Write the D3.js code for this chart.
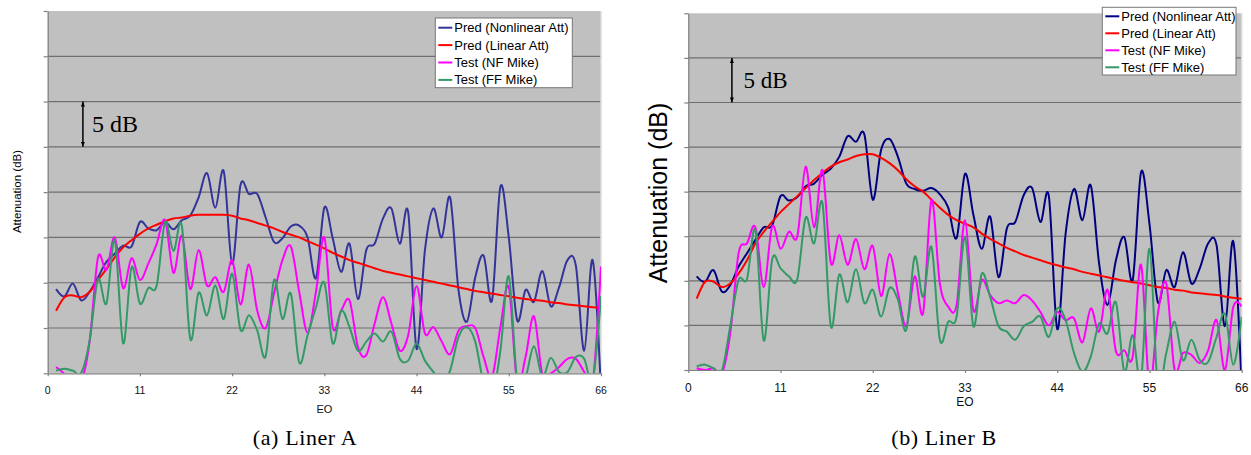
<!DOCTYPE html>
<html><head><meta charset="utf-8">
<script src="https://cdn.jsdelivr.net/npm/d3@7"></script>
<style>body{margin:0;background:#fff;} svg{display:block}</style>
</head><body><svg id="c" width="1251" height="455"></svg>
<script>
// ---------------- data ----------------
const eo = [1,2,3,4,5,6,7,8,9,10,11,12,13,14,15,16,17,18,19,20,21,22,23,24,25,26,27,28,29,30,31,32,33,34,35,36,37,38,39,40,41,42,43,44,45,46,47,48,49,50,51,52,53,54,55,56,57,58,59,60,61,62,63,64,65,66];
const xTicks = [0,11,22,33,44,55,66];
const yTicks = [0,5,10,15,20,25,30,35,40];
const seriesNames = ["Pred (Nonlinear Att)","Pred (Linear Att)","Test (NF Mike)","Test (FF Mike)"];
const captions = ["(a) Liner A","(b) Liner B"];

// Liner A (attenuation in dB, 5 dB per grid line)
const linerA_nonlinear = [9.3,8.5,9.9,8.05,9.0,10.6,12.3,13.2,14.1,14.0,16.7,16.0,15.8,16.7,15.9,16.9,17.4,19.4,22.1,18.3,22.3,12.1,20.8,19.8,19.8,17.2,14.5,14.9,16.2,16.3,15.0,10.5,18.3,14.9,11.2,14.3,8.2,13.6,14.3,17.1,18.2,14.3,17.8,2.7,13.6,18.2,15.0,19.4,9.2,5.7,10.6,13.0,8.05,20.6,15.0,5.85,9.2,7.9,11.3,7.4,9.5,12.5,11.9,2.5,12.5,-2];
const linerA_linear = [6.9,8.4,8.6,8.4,9.0,10.3,11.5,12.8,13.9,14.7,15.4,16.0,16.4,16.8,17.1,17.2,17.4,17.5,17.5,17.5,17.5,17.4,17.1,16.9,16.6,16.3,16.0,15.6,15.3,15.0,14.6,14.2,13.8,13.3,12.9,12.5,12.2,11.9,11.6,11.3,11.1,10.9,10.7,10.5,10.3,10.1,9.9,9.7,9.5,9.3,9.1,8.95,8.8,8.65,8.5,8.35,8.2,8.1,8.0,7.85,7.75,7.6,7.5,7.4,7.3,7.2];
const linerA_nf = [0.7,-0.1,-1.5,-1.0,3.5,12.8,11.4,15.0,9.4,12.7,10.3,12.1,14.3,16.9,11.1,15.2,9.3,13.6,9.7,10.6,9.0,12.5,7.6,12.0,6.9,5.0,8.8,12.5,14.0,9.0,4.5,9.0,15.0,5.1,6.9,8.05,2.9,2.0,5.5,8.4,5.5,2.5,4.2,9.6,4.4,5.1,3.5,2.1,4.7,5.2,5.0,1.8,-0.4,5.1,9.5,-1.0,1.8,6.3,-0.1,0,0.7,1.6,1.6,0.15,-1.1,11.8];
const linerA_ff = [0.3,0.5,0.3,0.05,3.6,10.4,7.7,14.7,3.3,11.7,7.7,9.4,9.7,16.7,13.5,16.3,3.8,8.9,6.4,9.7,6.0,11.0,4.8,6.4,4.7,1.9,10.3,6.0,8.8,1.2,4.2,7.3,10.0,3.3,6.9,5.1,2.5,3.5,4.4,3.5,4.6,1.6,1.4,3.3,1.4,0.15,-1.1,0.3,4.0,5.1,3.5,-1.1,-2.6,2.5,10.7,-0.8,-0.4,3.0,-0.4,1.7,0.15,0.15,1.8,1.6,-0.8,8.5];

// Liner B
const linerB_nonlinear = [10.5,9.9,11.2,8.8,9.5,11.6,13.1,14.6,16.0,16.2,19.5,19.0,19.4,20.6,20.9,21.9,22.6,23.9,26.2,25.6,26.4,19.1,24.7,25.9,23.9,20.9,20.3,20.1,20.4,19.7,18.2,14.8,22.0,17.4,13.6,17.2,10.4,15.9,16.6,19.6,20.4,16.6,19.5,4.6,15.3,20.3,16.8,20.7,11.9,7.3,12.3,14.9,10.1,22.2,16.4,7.6,11.2,9.3,13.2,9.7,11.4,14.2,14.0,4.9,14.4,-2];
const linerB_linear = [8.0,9.9,9.9,9.3,9.7,10.8,12.3,14.2,15.5,16.6,17.7,18.6,19.5,20.4,21.3,22.1,22.8,23.3,23.6,24.0,24.2,24.2,23.8,23.2,22.4,21.4,20.6,20.0,19.1,18.2,17.4,16.8,16.4,16.0,15.3,14.7,14.2,13.7,13.3,12.9,12.6,12.3,12.0,11.75,11.5,11.3,11.0,10.8,10.6,10.4,10.2,10.0,9.85,9.7,9.5,9.3,9.2,9.0,8.9,8.7,8.6,8.5,8.4,8.25,8.1,8.0];
const linerB_nf = [0.2,0,0.2,-0.4,4.1,13.1,14.2,16.0,9.3,16.1,13.6,15.5,15.0,22.8,16.0,22.4,12.0,15.1,11.8,14.7,11.3,13.9,8.3,13.0,8.7,4.9,10.5,6.4,19.1,9.7,7.1,7.3,16.8,6.7,10.1,8.4,7.5,7.8,7.5,8.4,7.8,6.5,5.0,6.5,5.6,5.8,3.1,6.9,4.3,9.0,2.1,2.2,1.5,11.8,-1.9,6.3,9.7,0,1.9,1.7,0.8,2.2,5.6,0,7.1,7.1];
const linerB_ff = [0.4,0.6,0.2,-0.1,4.9,10.1,10.2,15.7,3.3,12.4,11.4,10.5,10.2,17.1,14.2,18.7,4.9,10.7,7.6,11.3,7.5,9.0,6.0,9.2,7.9,4.5,12.7,8.2,13.8,3.4,5.4,6.0,14.9,4.9,10.8,8.2,4.9,4.3,3.4,4.9,5.4,6.0,3.7,6.9,5.6,1.9,-0.2,1.5,5.2,4.1,7.6,-0.2,3.9,-1.1,13.6,-1.9,1.9,5.4,1.1,3.4,1.1,0.9,3.7,6.3,0.6,6.0];

// ---------------- drawing ----------------
const svg = d3.select("#c");
const defs = svg.append("defs");
defs.append("marker").attr("id","ah").attr("viewBox","0 0 10 10").attr("refX",10).attr("refY",5)
  .attr("markerWidth",5).attr("markerHeight",7).attr("orient","auto-start-reverse")
  .attr("markerUnits","userSpaceOnUse")
  .append("path").attr("d","M0,1 L10,5 L0,9 Z").attr("fill","#000");

function panel(o) {
  const x = d3.scaleLinear().domain([0,66]).range([o.l, o.r]);
  const y = d3.scaleLinear().domain([0,40]).range([o.b, o.t]);
  const g = svg.append("g");
  g.append("rect").attr("x",o.l).attr("y",o.t).attr("width",o.r-o.l).attr("height",o.b-o.t).attr("fill","#c0c0c0");
  // grid
  g.selectAll("line.grid").data(yTicks.filter(v => v>0 && v<40)).join("line")
    .attr("x1",o.l).attr("x2",o.r).attr("y1",d=>y(d)).attr("y2",d=>y(d))
    .attr("stroke","#6f6f6f").attr("stroke-width",1.2);
  g.append("line").attr("x1",o.r).attr("x2",o.r).attr("y1",o.t).attr("y2",o.b).attr("stroke","#dcdcdc").attr("stroke-width",1.5);
  // clip
  const cid = "clip"+o.id;
  defs.append("clipPath").attr("id",cid).append("rect").attr("x",o.l).attr("y",o.t).attr("width",o.r-o.l).attr("height",o.b-o.t);
  const line = d3.line().x((d,i)=>x(eo[i])).y(d=>y(d)).curve(d3.curveCardinal.tension(0));
  o.series.forEach((s,i) => {
    g.append("path").attr("d", line(s)).attr("fill","none").attr("stroke",o.colors[i])
      .attr("stroke-width",2).attr("clip-path",`url(#${cid})`);
  });
  // axes
  const ya = g.append("g").attr("transform",`translate(${o.l},0)`)
    .call(d3.axisLeft(y).tickValues(yTicks).tickFormat("").tickSize(4).tickSizeOuter(0));
  const xa = g.append("g").attr("transform",`translate(0,${o.b})`)
    .call(d3.axisBottom(x).tickValues(xTicks).tickFormat("").tickSize(3).tickSizeOuter(0));
  [ya,xa].forEach(a => { a.selectAll("path,line").attr("stroke","#808080").attr("stroke-width",1.2); });
  g.selectAll("text.xt").data(xTicks).join("text").attr("x",d=>x(d)).attr("y",o.tickY)
    .attr("text-anchor","middle").attr("font-family","Liberation Sans, Arial, sans-serif")
    .attr("font-size",o.tickFs).attr("fill","#111").text(d=>d);
  g.append("text").attr("x",x(33)).attr("y",o.xlabY).attr("text-anchor","middle")
    .attr("font-family","Liberation Sans, Arial, sans-serif").attr("font-size",o.xlabFs).attr("fill","#111").text("EO");
  g.append("text").attr("transform",`translate(${o.ylabX},${o.ylabY}) rotate(-90)`).attr("text-anchor","middle")
    .attr("font-family","Liberation Sans, Arial, sans-serif").attr("font-size",o.ylabFs).attr("fill","#000").text("Attenuation (dB)");
  // 5 dB annotation
  g.append("line").attr("x1",x(o.arrX)).attr("x2",x(o.arrX)).attr("y1",y(o.arrTop)).attr("y2",y(o.arrTop-5))
    .attr("stroke","#000").attr("stroke-width",1.5).attr("marker-start","url(#ah)").attr("marker-end","url(#ah)");
  g.append("text").attr("x",x(o.arrX)+o.dbDx).attr("y",y(o.arrTop-2.5)+o.dbDy).attr("font-family","Liberation Serif, Times New Roman, serif")
    .attr("font-size",o.dbFs).attr("fill","#000").text("5 dB");
  // legend
  const L = o.leg;
  g.append("rect").attr("x",L.x).attr("y",L.y).attr("width",L.w).attr("height",L.h).attr("fill","#fff").attr("stroke","#777").attr("stroke-width",1);
  seriesNames.forEach((n,i) => {
    const cy = L.y0 + i*L.dy;
    g.append("line").attr("x1",L.x+3).attr("x2",L.x+17).attr("y1",cy).attr("y2",cy).attr("stroke",o.colors[i]).attr("stroke-width",2);
    g.append("text").attr("x",L.x+19).attr("y",cy+4.5).attr("font-family","Liberation Sans, Arial, sans-serif")
      .attr("font-size",L.fs).attr("fill","#000").text(n);
  });
  svg.append("text").attr("x",o.capX).attr("y",445).attr("text-anchor","middle")
    .attr("font-family","Liberation Serif, Times New Roman, serif").attr("font-size",22)
    .attr("letter-spacing",0.6).attr("fill","#000").text(o.caption);
}

panel({id:"A", l:47.7, r:601, t:11, b:373.3,
  series:[linerA_nonlinear, linerA_linear, linerA_nf, linerA_ff],
  colors:["#333399","#ff0000","#ff00ff","#339966"],
  tickY:394, tickFs:10.5, xlabY:413, xlabFs:11, ylabX:20.5, ylabY:191.5, ylabFs:11.5,
  arrX:4.2, arrTop:30, dbDx:9, dbDy:8, dbFs:24,
  leg:{x:435.3, y:18, w:137, h:69.7, y0:27.7, dy:17.4, fs:13},
  capX:305, caption:captions[0]});

panel({id:"B", l:688.3, r:1241.7, t:13.3, b:370,
  series:[linerB_nonlinear, linerB_linear, linerB_nf, linerB_ff],
  colors:["#000080","#ff0000","#ff00ff","#339966"],
  tickY:392, tickFs:12, xlabY:406, xlabFs:12, ylabX:667, ylabY:193, ylabFs:25,
  arrX:5.2, arrTop:35, dbDx:11.5, dbDy:8, dbFs:23,
  leg:{x:1102.3, y:7.3, w:133.7, h:67.7, y0:16.3, dy:17, fs:13},
  capX:944, caption:captions[1]});
</script>
</body></html>
